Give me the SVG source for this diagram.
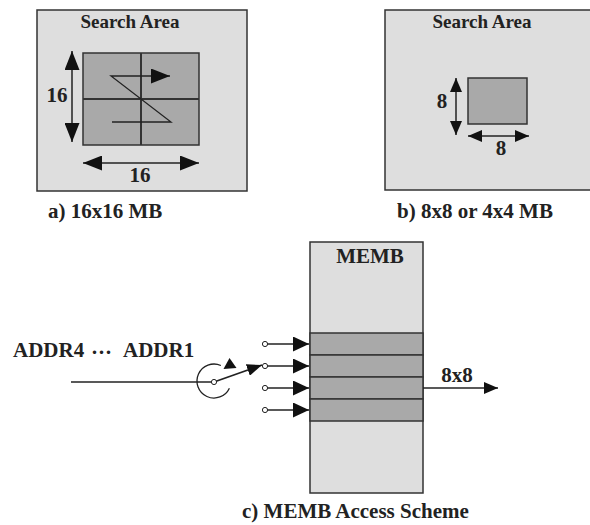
<svg xmlns="http://www.w3.org/2000/svg" width="590" height="525" viewBox="0 0 590 525">
<style>
text{font-family:"Liberation Serif","Times New Roman",serif;font-weight:bold;fill:#222;font-size:21px}
.t19{font-size:19px}
.box{fill:#dedede;stroke:#333;stroke-width:1.5}
.blk{fill:#a9a9a9;stroke:#333;stroke-width:1.5}
.grid{stroke:#333;stroke-width:2;fill:none}
.thin{stroke:#222;stroke-width:1.3;fill:none}
.ln{stroke:#222;stroke-width:1.5;fill:none}
.dot{fill:#fff;stroke:#222;stroke-width:1}
.head{fill:#111}
</style>
<defs>
<marker id="hb" markerUnits="userSpaceOnUse" markerWidth="19" markerHeight="15" refX="19" refY="7.5" orient="auto-start-reverse"><path d="M0,0 L19,7.5 L0,15 z" fill="#111"/></marker>
<marker id="hm" markerUnits="userSpaceOnUse" markerWidth="16" markerHeight="15" refX="16" refY="7.5" orient="auto-start-reverse"><path d="M0,0 L16,7.5 L0,15 z" fill="#111"/></marker>
<marker id="hw" markerUnits="userSpaceOnUse" markerWidth="15" markerHeight="12" refX="15" refY="6" orient="auto-start-reverse"><path d="M0,0 L15,6 L0,12 z" fill="#111"/></marker>
<marker id="hs" markerUnits="userSpaceOnUse" markerWidth="14" markerHeight="12" refX="14" refY="6" orient="auto-start-reverse"><path d="M0,0 L14,6 L0,12 z" fill="#111"/></marker>
</defs>

<g id="panelA">
<rect class="box" x="37" y="10" width="210" height="181"/>
<text class="t19" x="130" y="28" text-anchor="middle">Search Area</text>
<rect class="blk" x="83" y="53" width="116" height="92"/>
<line class="grid" x1="141" y1="53" x2="141" y2="145"/>
<line class="grid" x1="83" y1="99" x2="199" y2="99"/>
<polyline class="thin" points="112,122 171,122 111,76 170,76" marker-end="url(#hb)"/>
<line class="ln" x1="72" y1="51" x2="72" y2="142" marker-start="url(#hb)" marker-end="url(#hb)"/>
<text x="57" y="102" text-anchor="middle">16</text>
<line class="ln" x1="83" y1="163" x2="199" y2="163" marker-start="url(#hb)" marker-end="url(#hb)"/>
<text x="140" y="182" text-anchor="middle">16</text>
<text x="48" y="218">a) 16x16 MB</text>
</g>

<g id="panelB">
<rect class="box" x="385" y="10" width="210" height="180"/>
<text class="t19" x="482" y="28" text-anchor="middle">Search Area</text>
<rect class="blk" x="468" y="78" width="59" height="46"/>
<line class="ln" x1="456" y1="78" x2="456" y2="135" marker-start="url(#hs)" marker-end="url(#hs)"/>
<text x="442" y="108" text-anchor="middle">8</text>
<line class="ln" x1="468" y1="136" x2="529" y2="136" marker-start="url(#hs)" marker-end="url(#hs)"/>
<text x="501" y="155" text-anchor="middle">8</text>
<text x="397" y="218">b) 8x8 or 4x4 MB</text>
</g>

<g id="memb">
<rect class="box" x="310" y="242" width="113" height="251"/>
<text x="370" y="263" text-anchor="middle">MEMB</text>
<rect class="blk" x="310" y="333" width="113" height="22"/>
<rect class="blk" x="310" y="355" width="113" height="22"/>
<rect class="blk" x="310" y="377" width="113" height="22"/>
<rect class="blk" x="310" y="399" width="113" height="22"/>
</g>

<g id="switch">
<text x="13" y="357">ADDR4</text>
<text x="91" y="359">···</text>
<text x="123" y="357">ADDR1</text>
<path class="thin" d="M220.9,365.5 A17,17 0 1 0 229.4,388.2"/>
<polygon class="head" points="229.5,358 223.5,369 236.5,368"/>
</g>

<g id="connectors">
<line class="ln" x1="71" y1="382" x2="214" y2="382"/>
<line class="ln" x1="214" y1="382" x2="262" y2="365" marker-end="url(#hw)"/>
<line class="ln" x1="265" y1="344" x2="309" y2="344" marker-end="url(#hm)"/>
<line class="ln" x1="265" y1="366" x2="309" y2="366" marker-end="url(#hm)"/>
<line class="ln" x1="265" y1="388" x2="309" y2="388" marker-end="url(#hm)"/>
<line class="ln" x1="265" y1="410" x2="309" y2="410" marker-end="url(#hm)"/>
<circle class="dot" cx="214" cy="382" r="2.6"/>
<circle class="dot" cx="265" cy="344" r="2.6"/>
<circle class="dot" cx="265" cy="366" r="2.6"/>
<circle class="dot" cx="265" cy="388" r="2.6"/>
<circle class="dot" cx="265" cy="410" r="2.6"/>
<line class="ln" x1="423" y1="388" x2="498" y2="388" marker-end="url(#hs)"/>
<text x="457" y="382" text-anchor="middle">8x8</text>
</g>

<g id="captionC">
<text x="242" y="518">c) MEMB Access Scheme</text>
</g>
</svg>
